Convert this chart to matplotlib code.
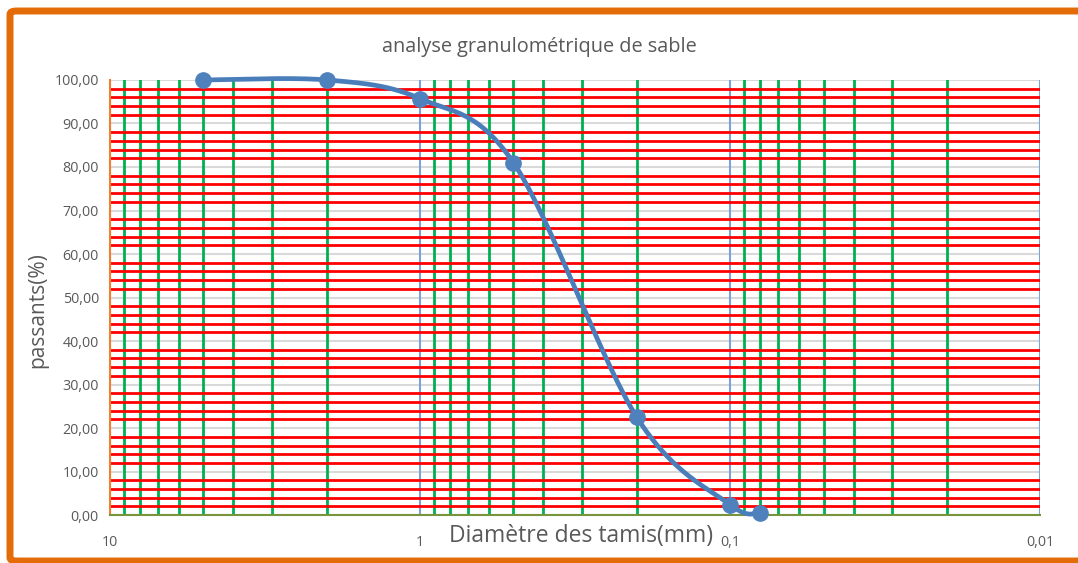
import matplotlib.pyplot as plt
import numpy as np
from matplotlib.patches import FancyBboxPatch
from matplotlib.ticker import FixedLocator, FuncFormatter

plt.rcParams['font.family'] = ['Open Sans', 'DejaVu Sans']

# Données
diametres = [5, 2, 1, 0.5, 0.2, 0.1, 0.08]
passants = [100.0, 100.0, 95.7, 81.0, 22.5, 2.4, 0.6]

x_ticks = [10, 1, 0.1, 0.01]
x_labels = ['10', '1', '0,1', '0,01']
y_ticks = [0, 10, 20, 30, 40, 50, 60, 70, 80, 90, 100]

title = 'analyse granulométrique de sable'
xlabel = 'Diamètre des tamis(mm)'
ylabel = 'passants(%)'


# Courbe lissée (façon Excel : Bézier type Catmull-Rom en échelle log)
def lissage(xs, ys, n=60):
    px = np.log10(np.array(xs, dtype=float))
    py = np.array(ys, dtype=float)
    pts = np.column_stack([px, py])
    ext = np.vstack([pts[0], pts, pts[-1]])
    out = []
    t = np.linspace(0, 1, n)[:, None]
    for i in range(1, len(ext) - 2):
        p0, p1, p2, p3 = ext[i - 1], ext[i], ext[i + 1], ext[i + 2]
        c1 = p1 + (p2 - p0) / 6
        c2 = p2 - (p3 - p1) / 6
        seg = ((1 - t) ** 3) * p1 + 3 * ((1 - t) ** 2) * t * c1 + 3 * (1 - t) * t ** 2 * c2 + t ** 3 * p2
        out.append(seg)
    out = np.vstack(out)
    return 10 ** out[:, 0], out[:, 1]


fig = plt.figure(figsize=(10.78, 5.63), dpi=100)
ax = fig.add_axes([0.102, 0.085, 0.863, 0.773])

ax.set_xscale('log')
ax.set_xlim(10, 0.01)
ax.set_ylim(0, 100)

# grille
for v in range(0, 101, 10):
    ax.axhline(v, color='#D9D9D9', lw=1.5, zorder=1)
minors = [m * 10.0 ** e for e in (-2, -1, 0) for m in range(2, 10)]
for v in minors:
    ax.axvline(v, color='#00B050', lw=2, zorder=2)
for v in x_ticks:
    ax.axvline(v, color='#7BA3DB', lw=1.5, zorder=2)
for v in range(0, 100, 10):
    for k in (2, 4, 6, 8):
        ax.axhline(v + k, color='#FF0000', lw=2, zorder=3)

xs, ys = lissage(diametres, passants)
ax.plot(xs, ys, color='#4A7EBB', lw=3.4, zorder=5, solid_capstyle='round', clip_on=False)
ax.plot(diametres, passants, 'o', color='#4F81BD', markersize=11, zorder=6, clip_on=False)

ax.xaxis.set_major_locator(FixedLocator(x_ticks))
ax.xaxis.set_minor_locator(FixedLocator([]))
ax.set_xticklabels(x_labels)
ax.set_yticks(y_ticks)
ax.yaxis.set_major_formatter(FuncFormatter(lambda v, p: f'{v:.2f}'.replace('.', ',')))
ax.tick_params(length=0, labelsize=10.3, colors='#595959')
ax.tick_params(axis='x', pad=14)
ax.tick_params(axis='y', pad=8)

for s in ('top', 'right'):
    ax.spines[s].set_visible(False)
ax.spines['left'].set_color('#F08030')
ax.spines['left'].set_linewidth(1.5)
ax.spines['bottom'].set_color('#77933C')
ax.spines['bottom'].set_linewidth(1.5)
ax.spines['left'].set_zorder(4)
ax.spines['bottom'].set_zorder(4)

fig.text(0.5, 0.917, title, ha='center', va='center', fontsize=14.3, color='#595959')
fig.text(0.539, 0.048, xlabel, ha='center', va='center', fontsize=16.5, color='#595959')
fig.text(0.035, 0.45, ylabel, ha='center', va='center', rotation=90, fontsize=15, color='#595959')

# cadre orange
cadre = FancyBboxPatch((10 / 1078, 2 / 563), 1.2, 550 / 563, boxstyle='round,pad=0,rounding_size=0.006',
                       transform=fig.transFigure, fill=False, edgecolor='#E36C09', lw=5, clip_on=False)
fig.patches.append(cadre)

plt.savefig('out.png', dpi=100)
